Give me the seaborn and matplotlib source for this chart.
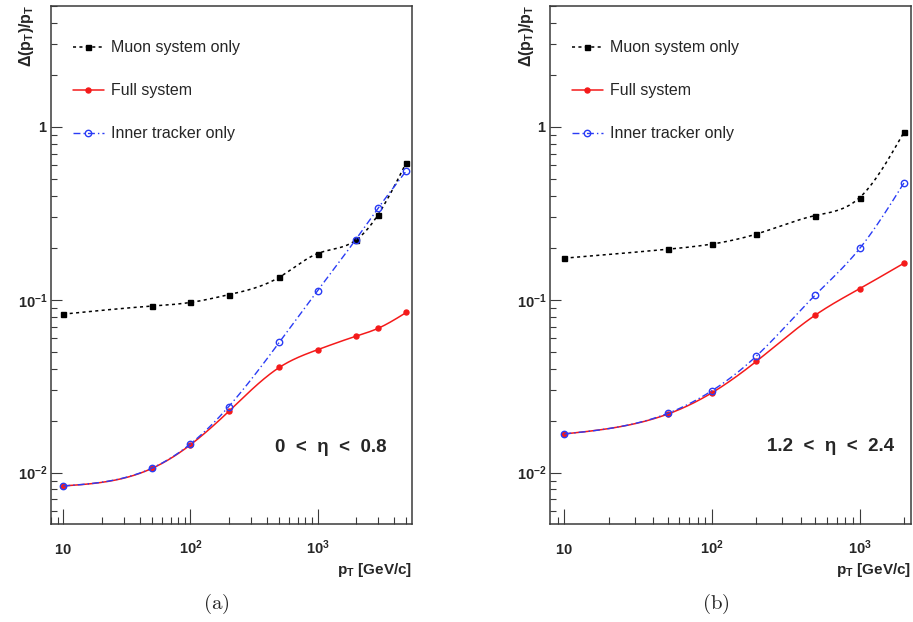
import numpy as np
import pandas as pd
import seaborn as sns
import matplotlib
matplotlib.use("Agg")
import matplotlib.pyplot as plt
from matplotlib.lines import Line2D
from matplotlib.ticker import FixedLocator, FixedFormatter, LogLocator, NullFormatter

# ---------------- data ----------------
pt_a = [10, 50, 100, 200, 500, 1000, 2000, 3000, 5000]
muon_a = [0.0826, 0.092, 0.0965, 0.107, 0.135, 0.185, 0.221, 0.311, 0.622]
full_a = [0.00838, 0.0106, 0.0145, 0.0226, 0.0406, 0.0514, 0.0615, 0.0684, 0.0845]
inner_a = [0.00838, 0.01064, 0.01466, 0.0241, 0.0567, 0.1127, 0.223, 0.339, 0.557]

pt_b = [10, 50, 100, 200, 500, 1000, 2000]
muon_b = [0.174, 0.196, 0.210, 0.240, 0.307, 0.390, 0.935]
full_b = [0.01675, 0.0218, 0.0290, 0.0441, 0.0815, 0.116, 0.163]
inner_b = [0.01675, 0.0220, 0.0298, 0.0473, 0.1065, 0.198, 0.476]

series_labels = ["Muon system only", "Full system", "Inner tracker only"]
eta_labels = ["0  <  \u03b7  <  0.8", "1.2  <  \u03b7  <  2.4"]
captions = ["(a)", "(b)"]
xtick_vals = [10, 100, 1000]
xtick_labels = [r"$\mathbf{10}$", r"$\mathbf{10^{2}}$", r"$\mathbf{10^{3}}$"]
ytick_vals = [0.01, 0.1, 1]
ytick_labels = [r"$\mathbf{10^{-2}}$", r"$\mathbf{10^{-1}}$", r"$\mathbf{1}$"]

# ---------------- style ----------------
sns.set_style("white")
plt.rcParams["font.family"] = ["Liberation Sans", "DejaVu Sans"]
plt.rcParams["mathtext.fontset"] = "custom"
plt.rcParams["mathtext.rm"] = "Liberation Sans"
plt.rcParams["mathtext.bf"] = "Liberation Sans:bold"
plt.rcParams["mathtext.it"] = "Liberation Sans:italic"

BLACK = "#000000"
RED = "#f41a1a"
BLUE = "#2a3cf5"
FRAME = "#3a3a3a"

styles = [
    dict(color=BLACK, ls=(0, (2.0, 2.2)), lw=1.1, marker="s", ms=3.6, mfc=BLACK, mec=BLACK),
    dict(color=RED, ls="-", lw=1.1, marker="o", ms=3.6, mfc=RED, mec=RED),
    dict(color=BLUE, ls=(0, (5, 2.2, 1, 2.2)), lw=1.0, marker="o", ms=4.6, mfc="none", mec=BLUE),
]


def smooth(x, y, n=300):
    """Natural cubic spline through the points in log-log space (ROOT 'C' style)."""
    lx = np.log10(np.asarray(x, float))
    ly = np.log10(np.asarray(y, float))
    m = len(lx)
    h = np.diff(lx)
    A = np.zeros((m, m))
    r = np.zeros(m)
    A[0, 0] = A[-1, -1] = 1.0
    for i in range(1, m - 1):
        A[i, i - 1] = h[i - 1]
        A[i, i] = 2 * (h[i - 1] + h[i])
        A[i, i + 1] = h[i]
        r[i] = 6 * ((ly[i + 1] - ly[i]) / h[i] - (ly[i] - ly[i - 1]) / h[i - 1])
    M = np.linalg.solve(A, r)
    xs = np.linspace(lx[0], lx[-1], n)
    idx = np.clip(np.searchsorted(lx, xs) - 1, 0, m - 2)
    x0, x1 = lx[idx], lx[idx + 1]
    hh = x1 - x0
    a = (x1 - xs) / hh
    b = (xs - x0) / hh
    ys = a * ly[idx] + b * ly[idx + 1] + ((a ** 3 - a) * M[idx] + (b ** 3 - b) * M[idx + 1]) * hh ** 2 / 6
    return 10 ** xs, 10 ** ys


W, H = 913, 622
fig = plt.figure(figsize=(W / 100, H / 100), dpi=100)
fig.patch.set_facecolor("white")

panels = [
    dict(rect=(51, 6, 412, 524), pt=pt_a, ys=[muon_a, full_a, inner_a], xlim=(8.0, 5540),
         eta=eta_labels[0], eta_xy=(0.93, 0.147), cap=captions[0], cap_x=216.7, ylab_x=-0.068),
    dict(rect=(550.3, 6, 910.7, 524), pt=pt_b, ys=[muon_b, full_b, inner_b], xlim=(8.04, 2215),
         eta=eta_labels[1], eta_xy=(0.9545, 0.149), cap=captions[1], cap_x=716.0, ylab_x=-0.066),
]

for p in panels:
    x0, y0, x1, y1 = p["rect"]
    ax = fig.add_axes([x0 / W, 1 - y1 / H, (x1 - x0) / W, (y1 - y0) / H])
    ax.set_facecolor("white")
    ax.set_xscale("log")
    ax.set_yscale("log")

    handles = []
    for vals, st, lab in zip(p["ys"], styles, series_labels):
        sx, sy = smooth(p["pt"], vals)
        curve = pd.DataFrame({"pt": sx, "res": sy})
        sns.lineplot(data=curve, x="pt", y="res", ax=ax, color=st["color"], linestyle=st["ls"],
                     linewidth=st["lw"], estimator=None, sort=False)
        pts = pd.DataFrame({"pt": p["pt"], "res": vals})
        sns.lineplot(data=pts, x="pt", y="res", ax=ax, linestyle="", marker=st["marker"],
                     markersize=st["ms"], markerfacecolor=st["mfc"], markeredgecolor=st["mec"],
                     markeredgewidth=1.0, color=st["color"], estimator=None, sort=False)
        handles.append(Line2D([0], [0], color=st["color"], linestyle=st["ls"], linewidth=st["lw"],
                              marker=st["marker"], markersize=st["ms"], markerfacecolor=st["mfc"],
                              markeredgecolor=st["mec"], markeredgewidth=1.0))

    ax.set_xlim(*p["xlim"])
    ax.set_ylim(0.00505, 5.0)

    ax.xaxis.set_major_locator(FixedLocator(xtick_vals))
    ax.xaxis.set_major_formatter(FixedFormatter(xtick_labels))
    ax.xaxis.set_minor_locator(LogLocator(base=10, subs=np.arange(2, 10)))
    ax.xaxis.set_minor_formatter(NullFormatter())
    ax.yaxis.set_major_locator(FixedLocator(ytick_vals))
    ax.yaxis.set_major_formatter(FixedFormatter(ytick_labels))
    ax.yaxis.set_minor_locator(LogLocator(base=10, subs=np.arange(2, 10)))
    ax.yaxis.set_minor_formatter(NullFormatter())

    ax.tick_params(axis="both", which="both", direction="in", top=False, right=False,
                   bottom=True, left=True, color=FRAME, width=0.8)
    ax.tick_params(axis="x", which="major", length=11, pad=21.5, labelsize=10.5)
    ax.tick_params(axis="x", which="minor", length=5.3)
    ax.tick_params(axis="y", which="major", length=8, pad=2.5, labelsize=10.5)
    ax.tick_params(axis="y", which="minor", length=4.3)
    for lab in ax.get_xticklabels():
        lab.set_fontweight("bold")
        lab.set_verticalalignment("baseline")
    for lab in ax.get_yticklabels():
        lab.set_fontweight("bold")
    for s in ax.spines.values():
        s.set_visible(True)
        s.set_color(FRAME)
        s.set_linewidth(1.1)
    ax.set_xlabel("")
    ax.set_ylabel("")
    ax.grid(False)

    ax.text(1.0, -0.089, r"$\mathbf{p_{T}}$ [GeV/c]", transform=ax.transAxes, ha="right",
            va="center", fontsize=11, fontweight="bold")
    ax.text(p["ylab_x"], 1.002, r"$\mathbf{\Delta(p_{T})/p_{T}}$", transform=ax.transAxes,
            ha="center", va="top", rotation=90, fontsize=11.5, fontweight="bold")
    ax.text(p["eta_xy"][0], p["eta_xy"][1], p["eta"], transform=ax.transAxes, ha="right",
            va="center", fontsize=13.5, fontweight="bold")

    ax.legend(handles, series_labels, loc="upper left", bbox_to_anchor=(0.06, 0.934),
              frameon=False, borderpad=0, borderaxespad=0, handlelength=1.95,
              handletextpad=0.45, labelspacing=1.75, numpoints=1, fontsize=11.5)

    fig.text(p["cap_x"] / W, 1 - 604 / H, r"$\mathrm{(%s)}$" % p["cap"][1], ha="center",
             va="center", fontsize=15, math_fontfamily="cm")

fig.savefig("out.png", dpi=100, facecolor="white")
